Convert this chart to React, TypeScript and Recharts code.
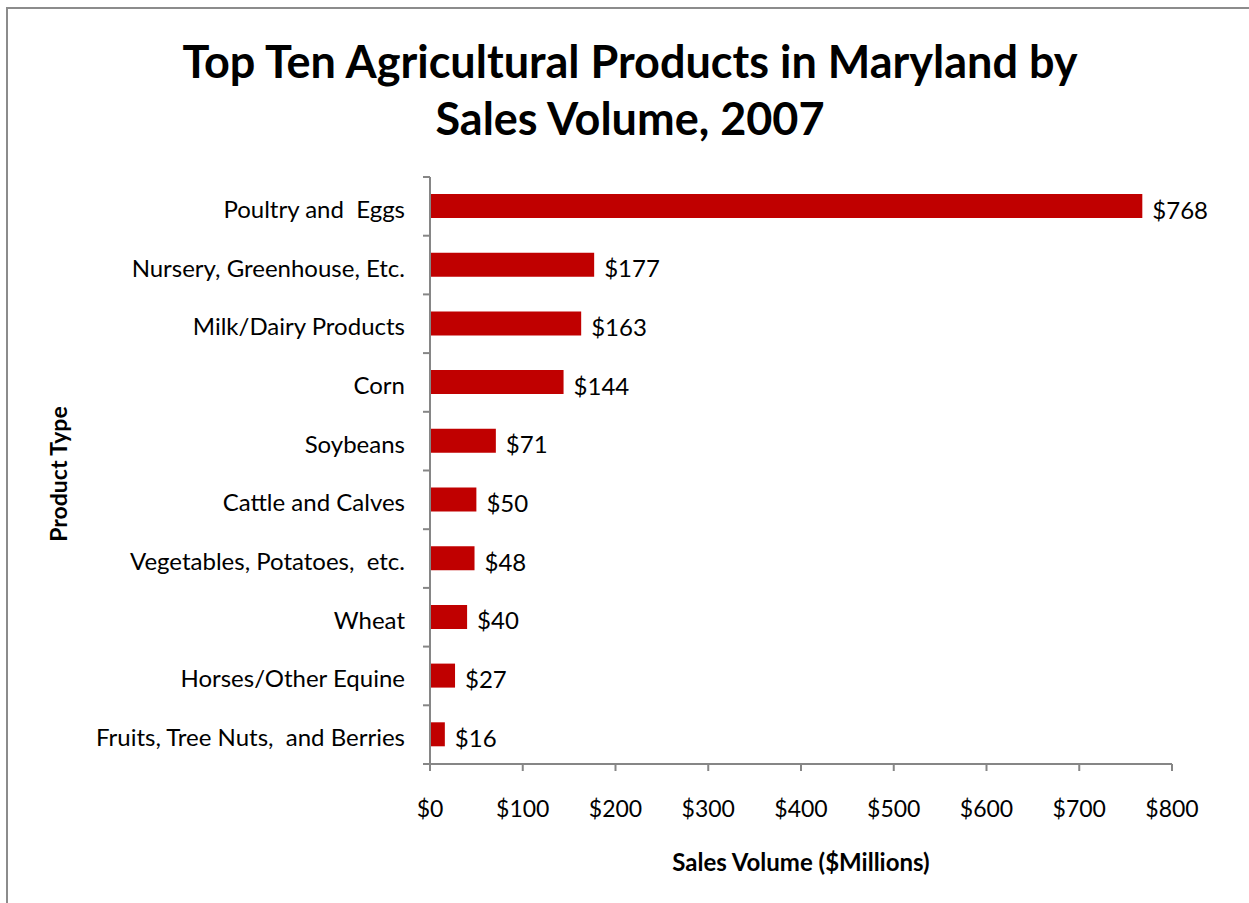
import React from "react";
import { BarChart, Bar, XAxis, YAxis, LabelList } from "recharts";

const categories = [
  "Poultry and  Eggs",
  "Nursery, Greenhouse, Etc.",
  "Milk/Dairy Products",
  "Corn",
  "Soybeans",
  "Cattle and Calves",
  "Vegetables, Potatoes,  etc.",
  "Wheat",
  "Horses/Other Equine",
  "Fruits, Tree Nuts,  and Berries",
];
const sales = [768, 177, 163, 144, 71, 50, 48, 40, 27, 16];
const xTicks = [0, 100, 200, 300, 400, 500, 600, 700, 800];

const data = categories.map((c, i) => ({ name: c, value: sales[i] }));

const FONT = "Lato, 'Open Sans', sans-serif";
const AXIS = "#868686";
const W = 1249;
const H = 903;
const M = { top: 177, right: 77, left: 0, bottom: 0 };
const YW = 430;
const XH = 139;
const PLOT_H = H - M.top - M.bottom - XH;

const YTick = (props: any) => {
  const { x, y, payload, index } = props;
  const half = payload && payload.offset ? payload.offset : PLOT_H / categories.length / 2;
  const ax = x + 8;
  return (
    <g>
      <line x1={ax - 7} x2={ax} y1={y - half} y2={y - half} stroke={AXIS} strokeWidth={2} />
      {index === categories.length - 1 && (
        <line x1={ax - 7} x2={ax} y1={y + half} y2={y + half} stroke={AXIS} strokeWidth={2} />
      )}
      <text x={ax - 25} y={y + 2} textAnchor="end" dominantBaseline="central" fontFamily={FONT} fontSize={24} fill="#000" style={{ whiteSpace: "pre" }}>
        {payload.value}
      </text>
    </g>
  );
};

const XTick = (props: any) => {
  const { x, y, payload } = props;
  return (
    <text x={x} y={y + 44} textAnchor="middle" fontFamily={FONT} fontSize={23} fill="#000">
      {"$" + payload.value}
    </text>
  );
};

const ValueLabel = (props: any) => {
  const { x, y, width, height, value } = props;
  return (
    <text x={x + width + 10} y={y + height / 2 + 3} dominantBaseline="central" fontFamily={FONT} fontSize={24} fill="#000">
      {"$" + value}
    </text>
  );
};

export default function App() {
  return (
    <div style={{ position: "fixed", left: 0, top: 0, width: W, height: H, overflow: "hidden", background: "#fff" }}>
      <div style={{ position: "absolute", left: 6, top: 7, width: W, height: H, borderLeft: "2px solid #8c8c8c", borderTop: "2px solid #8c8c8c" }} />
      <div style={{ position: "absolute", left: 0, top: 0, width: W }}>
        <BarChart width={W} height={H} data={data} layout="vertical" margin={M} barSize={24}>
          <XAxis
            type="number"
            domain={[0, 800]}
            ticks={xTicks}
            height={XH}
            axisLine={{ stroke: AXIS, strokeWidth: 2 }}
            tickLine={{ stroke: AXIS, strokeWidth: 2 }}
            tickSize={7}
            tick={<XTick />}
            label={{ value: "Sales Volume ($Millions)", position: "insideBottom", offset: 32, style: { fontFamily: FONT, fontSize: 24, fontWeight: 700, fill: "#000" } }}
          />
          <YAxis
            type="category"
            dataKey="name"
            width={YW}
            axisLine={{ stroke: AXIS, strokeWidth: 2 }}
            tickLine={false}
            tick={<YTick />}
            interval={0}
          />
          <Bar dataKey="value" fill="#C00000" isAnimationActive={false}>
            <LabelList dataKey="value" content={<ValueLabel />} />
          </Bar>
        </BarChart>
      </div>
      <div style={{ position: "absolute", left: 0, top: 33, width: 1260, textAlign: "center", fontFamily: FONT, fontWeight: 700, fontSize: 45, lineHeight: "57px", color: "#000" }}>
        Top Ten Agricultural Products in Maryland by
        <br />
        Sales Volume, 2007
      </div>
      <div style={{ position: "absolute", left: 58, top: 474, transform: "translate(-50%, -50%) rotate(-90deg)", whiteSpace: "nowrap", fontFamily: FONT, fontWeight: 700, fontSize: 23, color: "#000" }}>
        Product Type
      </div>
    </div>
  );
}
